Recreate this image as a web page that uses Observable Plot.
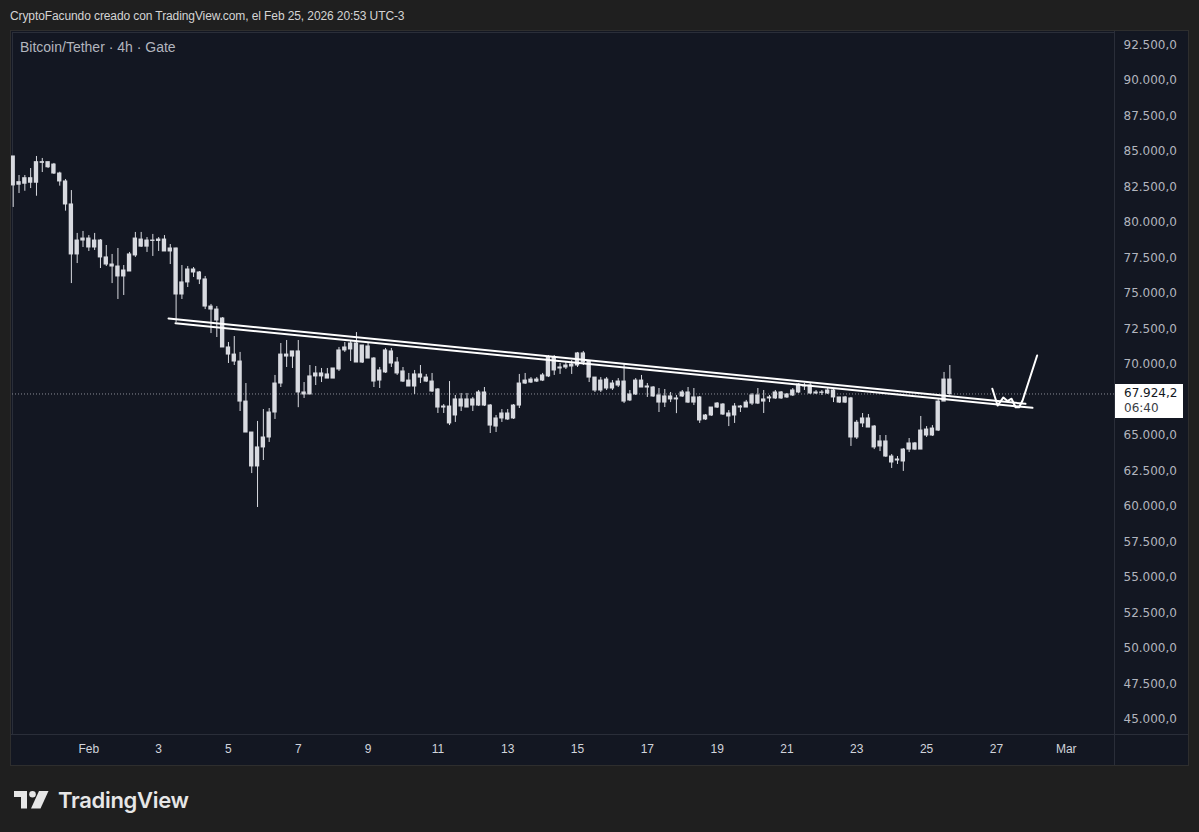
<!DOCTYPE html>
<html>
<head>
<meta charset="utf-8">
<script src="https://cdn.jsdelivr.net/npm/d3@7"></script>
<script src="https://cdn.jsdelivr.net/npm/@observablehq/plot@0.6"></script>
<style>
  html, body { margin: 0; padding: 0; width: 1199px; height: 832px; overflow: hidden; background: #1f1f1f; font-family: "Liberation Sans", Arial, sans-serif; }
  #hdr { position: absolute; left: 10px; top: 9px; font-size: 12px; letter-spacing: -0.1px; color: #d4d4d4; white-space: nowrap; }
  #panel { position: absolute; left: 10px; top: 30px; width: 1177px; height: 734px; border: 1px solid #2e2e2e; background: #131722; }
  #chart { position: absolute; left: 0; top: 0; }
  #sym { position: absolute; left: 9px; top: 8px; font-size: 14px; color: #b2b5be; white-space: nowrap; }
  .sep { position: absolute; background: #2a2e39; }
  #plabel { position: absolute; left: 1104px; width: 68px; height: 34px; background: #ffffff; box-sizing: border-box; padding: 2px 0 0 9px; color: #131722; font-family: "DejaVu Sans", sans-serif; line-height: 15px; white-space: nowrap; }
  #plabel .p { font-size: 12px; }
  #plabel .t { font-size: 12px; color: #3a3d46; }
  #logo { position: absolute; left: 14px; top: 787px; display: flex; align-items: center; gap: 8px; color: #e6e6e6; }
  #logo span { font-family: Inter, "Open Sans", sans-serif; font-weight: 600; font-size: 22px; letter-spacing: -0.3px; }
</style>
</head>
<body>
<div id="hdr">CryptoFacundo creado con TradingView.com, el Feb 25, 2026 20:53 UTC-3</div>
<div id="panel">
  <div id="chart"></div>
  <div id="sym">Bitcoin/Tether · 4h · Gate</div>
</div>
<div id="logo">
  <svg width="36" height="18" viewBox="0 0 36 18"><g fill="#e6e6e6"><path d="M0 0H13V17.5H7V6H0Z"/><circle cx="18.5" cy="3.3" r="3.3"/><path d="M25 0H34.5L26.5 17.5H17Z"/></g></svg>
  <span>TradingView</span>
</div>
<script>
// ---- Data (BTC/USDT 4h, Gate) ----
const firstBarUTC = "2026-01-30T00:00:00Z"; // first visible 4h bar
const barHours = 4;
const opens = [84650,82660,82730,83120,82800,84250,84250,84080,83450,82890,81270,77750,78730,78870,78240,78730,77540,77040,76900,76200,
  76550,77680,78800,78300,78730,78700,78800,77960,78170,74930,75780,76690,76480,75990,74080,73870,73240,71200,70700,70210,
  67390,65210,62820,64160,64860,66620,68660,70700,70560,70920,68030,67890,69160,69370,69300,69010,69650,70990,71480,71480,
  70140,71270,70420,68870,69440,70920,70140,69510,68870,68450,69300,69080,68800,68240,66970,67040,66410,67540,66970,67540,
  67110,68030,67110,65630,66200,66550,66200,67110,68660,68940,68800,68870,69160,70490,69720,69790,69860,69930,70780,70210,
  69080,68170,68940,68310,68520,68800,67470,67890,68870,68380,68380,67820,67320,67750,67540,67750,68030,67320,67680,66130,
  66410,66970,67180,66550,66410,67040,66970,67250,67820,67390,67610,67610,68030,67680,67820,68030,68480,68520,67960,68030,
  67960,68170,67680,67320,67610,64860,65850,66200,65630,64230,64580,63520,63240,63170,64010,64440,64010,65000,65000,65350,
  67390,68940];
const highs = [84650,83310,83310,83800,84650,84510,84250,84160,83540,83030,82250,79230,79370,79080,79230,78800,78380,77750,78170,76970,
  77890,79300,79300,78940,79160,78940,79080,78450,78200,76970,76900,76830,76550,76200,74230,74080,73310,71550,71970,70850,
  68660,65210,65990,66830,66900,69230,71480,71690,70920,71690,68730,69930,69860,69720,69720,69720,71200,71550,71690,72250,
  71340,71480,70490,69790,71130,71130,70490,69790,69370,69580,69930,69300,69370,68310,67180,68800,67820,67960,67960,67680,
  68170,68380,67180,66410,66830,66830,67180,69300,69370,69080,69080,69370,70630,70630,70070,70140,70280,70850,70920,70280,
  69080,69080,69080,68870,69010,70070,68170,69010,69230,68660,68450,68310,68240,68030,67820,68170,68380,68310,67750,66480,
  66970,67320,67250,66760,67250,67110,67470,67960,68310,68170,67820,68170,68100,67960,68310,68660,68660,68660,68170,68170,
  68310,68310,67680,67750,67680,66060,66550,66480,65700,65000,65000,63660,63520,64080,64790,64510,66340,65630,65700,67610,
  69440,69930];
const lows = [81060,82040,82200,82390,81850,83520,83800,83380,82560,80800,75700,77110,78240,77960,78030,76760,76900,75700,74580,74860,
  76550,77540,78240,77890,77610,77960,77960,77040,72960,74580,75420,76130,75630,73870,72180,71900,71200,70070,69930,66690,
  65210,62320,59930,63240,64510,66130,68380,69790,69720,66960,67610,67890,68520,68730,69010,69010,69510,70850,70210,70140,
  70070,70420,68380,68310,69370,69790,69230,68730,68450,67890,68660,68730,68030,66550,66550,65700,65920,66690,66970,66690,
  67040,67040,65140,65210,65920,66060,66130,66900,68590,68660,68730,68800,69080,69230,69300,69650,69300,69790,69930,68730,
  68030,68030,68170,68170,68380,67250,67390,67820,68380,67680,67680,66620,66970,67320,66540,67680,67250,67110,65850,66060,
  66340,66900,66410,65630,65850,66620,66970,67110,67180,66550,67320,67540,67540,67610,67750,67960,68170,67890,67890,67820,
  67890,67320,67250,67250,64230,64720,65560,65560,64010,63870,63450,62680,62960,62470,63800,63940,64010,64860,64930,65280,
  67390,67680];
const closes = [82610,82840,83120,82800,84250,84200,83890,83450,82890,81270,77750,78730,78870,78240,78730,77540,77040,76900,76200,76620,
  77750,78870,78300,78730,78700,78800,77960,78170,74930,75780,76690,76480,75990,74080,73870,73100,71200,70700,70210,67390,
  65210,62820,64160,64860,66620,68660,70700,70560,70920,68030,67890,69160,69370,69160,69010,69720,70990,71200,71060,70140,
  71340,70420,68800,69580,70990,70070,69370,68800,68450,69300,69080,68800,68100,66970,67040,65850,67540,67040,67540,67110,
  68030,67110,65700,66200,66550,66130,67110,68660,68870,68730,68940,69230,70490,69580,69790,69930,70000,70780,70140,69080,
  68170,68870,68310,68660,68800,67390,67890,68870,68380,68450,67750,67320,67750,67540,67610,68030,67320,67680,66060,66410,
  66970,67250,66480,66340,67040,66970,67320,67820,67250,67540,67680,68030,67610,67890,68170,68590,68450,67960,68030,68000,
  68170,67680,67320,67680,64860,65900,66200,65560,64160,64580,63520,63100,63310,64010,64440,64010,65350,65420,65490,67390,
  68940,67924.2];
const lastPrice = 67924.2;
const countdown = "06:40";

// hand-drawn trend lines (time, price)
const trendUpperTimes = ["2026-02-03T10:48Z", "2026-02-28T00:00Z"];
const trendUpperPrices = [73240, 67230];
const trendLowerTimes = ["2026-02-03T15:36Z", "2026-02-28T04:48Z"];
const trendLowerPrices = [72910, 66950];
// hand-drawn projection squiggle
const sketchTimes = ["2026-02-27T01:12Z","2026-02-27T04:48Z","2026-02-27T08:48Z","2026-02-27T11:36Z","2026-02-27T14:24Z","2026-02-27T17:12Z","2026-02-27T19:36Z","2026-02-27T22:00Z","2026-02-28T08:00Z"];
const sketchPrices = [68290, 67110, 67680, 67430, 67590, 66990, 66990, 67470, 70630];

// axis ticks
const xTickTimes = ["2026-02-01T04:00Z","2026-02-03T04:00Z","2026-02-05T04:00Z","2026-02-07T04:00Z","2026-02-09T04:00Z","2026-02-11T04:00Z","2026-02-13T04:00Z","2026-02-15T04:00Z","2026-02-17T04:00Z","2026-02-19T04:00Z","2026-02-21T04:00Z","2026-02-23T04:00Z","2026-02-25T04:00Z","2026-02-27T04:00Z","2026-03-01T04:00Z"];
const xTickLabels = ["Feb","3","5","7","9","11","13","15","17","19","21","23","25","27","Mar"];
const yTicks = [45000,47500,50000,52500,55000,57500,60000,62500,65000,70000,72500,75000,77500,80000,82500,85000,87500,90000,92500];

// ---- Build ----
const H = 3600e3;
const t0 = new Date(firstBarUTC).getTime();
const bars = opens.map((o, i) => ({
  t: new Date(t0 + i * barHours * H),
  o, h: highs[i], l: lows[i], c: closes[i]
}));
const upper = trendUpperTimes.map((t, i) => ({t: new Date(t), p: trendUpperPrices[i]}));
const lower = trendLowerTimes.map((t, i) => ({t: new Date(t), p: trendLowerPrices[i]}));
const sketch = sketchTimes.map((t, i) => ({t: new Date(t), p: sketchPrices[i]}));
const xTicks = xTickTimes.map(d => new Date(d));
const xLabelMap = new Map(xTicks.map((d, i) => [d.getTime(), xTickLabels[i]]));
const locale = d3.formatLocale({decimal: ",", thousands: ".", grouping: [3], currency: ["", ""]});
const fmt = locale.format(",.1f");

const candleColor = "#d8dae0";
const half = 1.5 * H;

const chart = Plot.plot({
  width: 1177,
  height: 734,
  marginLeft: 1,
  marginRight: 74,
  marginTop: 1,
  marginBottom: 31,
  style: {background: "#131722", color: "#d1d4dc", fontFamily: "'DejaVu Sans', sans-serif", fontSize: "12px"},
  x: {type: "utc", domain: [new Date(t0 - 0.12 * barHours * H), new Date(t0 + 189.3 * barHours * H)]},
  y: {domain: [43945, 93380]},
  marks: [
    Plot.frame({stroke: "#2a2e39"}),
    Plot.axisX({ticks: xTicks, tickFormat: d => xLabelMap.get(d.getTime()), tickSize: 0, tickPadding: 10, label: null, fill: "#d1d4dc", fontSize: 12, fontFamily: "'Liberation Sans', Arial, sans-serif"}),
    Plot.axisY({anchor: "right", ticks: yTicks, tickFormat: fmt, tickSize: 0, tickPadding: 9, label: null, fill: "#b2b5be", fontSize: 12}),
    Plot.ruleY([lastPrice], {stroke: "#8a8d96", strokeWidth: 1, strokeDasharray: "1,2"}),
    Plot.ruleX(bars, {x: "t", y1: "l", y2: "h", stroke: candleColor, strokeWidth: 1}),
    Plot.rect(bars, {x1: d => new Date(+d.t - half), x2: d => new Date(+d.t + half), y1: "o", y2: "c", fill: candleColor, insetTop: -0.5, insetBottom: -0.5}),
    Plot.line(upper, {x: "t", y: "p", stroke: "#ffffff", strokeWidth: 2}),
    Plot.line(lower, {x: "t", y: "p", stroke: "#ffffff", strokeWidth: 2}),
    Plot.line(sketch, {x: "t", y: "p", stroke: "#ffffff", strokeWidth: 2, strokeLinejoin: "round", strokeLinecap: "round"})
  ]
});
document.getElementById("chart").appendChild(chart);

const panel = document.getElementById("panel");
// axis separators (pane | price scale, pane / time scale)
const vs = document.createElement("div"); vs.className = "sep";
vs.style.cssText = "left:1103px;top:0;width:1px;height:734px;";
panel.appendChild(vs);
const hs = document.createElement("div"); hs.className = "sep";
hs.style.cssText = "left:0;top:703px;width:1177px;height:1px;";
panel.appendChild(hs);

// last price label
const yPix = chart.scale("y").apply(lastPrice);
const lab = document.createElement("div");
lab.id = "plabel";
lab.style.top = (yPix - 9) + "px";
lab.innerHTML = '<div class="p">' + fmt(lastPrice) + '</div><div class="t">' + countdown + '</div>';
panel.appendChild(lab);
</script>
</body>
</html>
